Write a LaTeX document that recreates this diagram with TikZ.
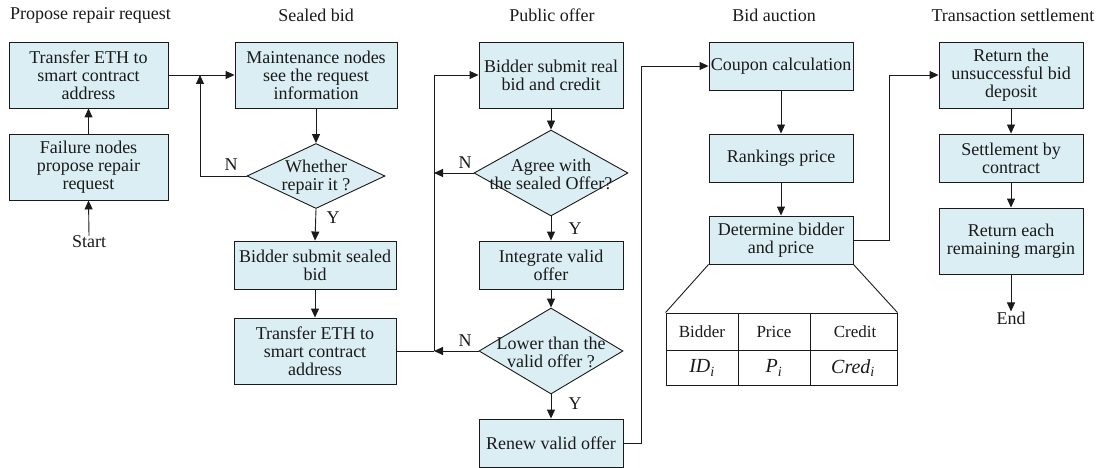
\documentclass[tikz,border=0pt]{standalone}
\usepackage{fontspec}
\setmainfont{Liberation Serif}
\usetikzlibrary{shapes.geometric,arrows.meta}
\definecolor{boxblue}{HTML}{DBEEF4}
\definecolor{ink}{HTML}{1A1A1A}
\begin{document}
\begin{tikzpicture}[x=1pt,y=-1pt,
  every node/.style={font=\fontsize{18}{18}\selectfont, text=ink},
  box/.style={draw=ink, fill=boxblue, line width=0.9pt, align=center, inner sep=0pt},
  dia/.style={diamond, draw=ink, fill=boxblue, line width=0.9pt, inner sep=0pt},
  dtext/.style={align=center, inner sep=0pt},
  line/.style={draw=ink, line width=0.9pt},
  arr/.style={line, -{Triangle[length=9pt,width=8pt]}},
  lbl/.style={inner sep=0pt},
  cell/.style={inner sep=0pt, font=\fontsize{17}{18}\selectfont},
  mcell/.style={inner sep=0pt, font=\fontsize{20}{20}\selectfont},
]
\useasboundingbox (0,0) rectangle (1102,468);

% stage titles
\node[lbl] (t1) at (90.5,15) {Propose repair request};
\node[lbl] (t2) at (316,15) {Sealed bid};
\node[lbl] (t3) at (552,15) {Public offer};
\node[lbl] (t4) at (774,15) {Bid auction};
\node[lbl] (t5) at (1013,15) {Transaction settlement};

% propose repair request
\node[box, minimum width=159pt, minimum height=66pt] (a1) at (88.5,75) {Transfer ETH to\\smart contract\\address};
\node[box, minimum width=159pt, minimum height=66pt] (a2) at (88.5,167) {Failure nodes\\propose repair\\request};
\node[lbl] (start) at (89,242) {Start};

% sealed bid
\node[box, minimum width=162pt, minimum height=66pt] (b1) at (316,75) {Maintenance nodes\\see the request\\information};
\node[dia, minimum width=138pt, minimum height=65pt] (b2) at (316,176) {};
\node[dtext] (b2t) at (316,177) {Whether\\repair it ?};
\node[box, minimum width=162pt, minimum height=48pt] (b3) at (315,265) {Bidder submit sealed\\bid};
\node[box, minimum width=162pt, minimum height=66pt] (b4) at (315,351) {Transfer ETH to\\smart contract\\address};

% public offer
\node[box, minimum width=144pt, minimum height=66pt] (c1) at (551,75) {Bidder submit real\\bid and credit};
\node[dia, minimum width=154pt, minimum height=86pt] (c2) at (551,173) {};
\node[dtext] (c2t) at (551,174) {Agree with\\the sealed Offer?};
\node[box, minimum width=144pt, minimum height=48pt] (c3) at (551,265) {Integrate valid\\offer};
\node[dia, minimum width=144pt, minimum height=86pt] (c4) at (551,351) {};
\node[dtext] (c4t) at (551,352) {Lower than the\\valid offer ?};
\node[box, minimum width=144pt, minimum height=48pt] (c5) at (551,443) {Renew valid offer};

% bid auction
\node[box, minimum width=144pt, minimum height=48pt] (d1) at (781,66) {Coupon calculation};
\node[box, minimum width=144pt, minimum height=48pt] (d2) at (781,158) {Rankings price};
\node[box, minimum width=144pt, minimum height=48pt] (d3) at (781,240) {Determine bidder\\and price};

% result table
\node[draw=ink, line width=0.9pt, minimum width=231pt, minimum height=72pt, inner sep=0pt] (tbl) at (781.5,349) {};
\coordinate (r1) at (666,350);
\coordinate (r2) at (897,350);
\coordinate (v1) at (738,313);
\coordinate (v2) at (738,385);
\coordinate (v3) at (810,313);
\coordinate (v4) at (810,385);
\draw[line] (r1) -- (r2);
\draw[line] (v1) -- (v2);
\draw[line] (v3) -- (v4);
\node[cell] (h1) at (702,332) {Bidder};
\node[cell] (h2) at (774,332) {Price};
\node[cell] (h3) at (855,332) {Credit};
\node[mcell] (m1) at (702,368) {\itshape ID\textsubscript{i}};
\node[mcell] (m2) at (774,368) {\itshape P\textsubscript{i}};
\node[mcell] (m3) at (853,368) {\itshape Cred\textsubscript{i}};
\draw[line] (d3.south west) -- (tbl.north west);
\draw[line] (d3.south east) -- (tbl.north east);

% transaction settlement
\node[box, minimum width=144pt, minimum height=66pt] (e1) at (1011,75) {Return the\\unsuccessful bid\\deposit};
\node[box, minimum width=144pt, minimum height=48pt] (e2) at (1011,158) {Settlement by\\contract};
\node[box, minimum width=144pt, minimum height=66pt] (e3) at (1011,241) {Return each\\remaining margin};
\node[lbl] (end) at (1011,318) {End};

% junction points
\coordinate (j1) at (200,75);
\coordinate (j2) at (434,351);
\coordinate (j3) at (434,173);
\coordinate (j4) at (641,66);
\coordinate (j5) at (889,75);

% connectors
\draw[arr] (start.north) -- (a2.south);
\draw[arr] (a2.north) -- (a1.south);
\draw[arr] (a1.east) -- (b1.west);
\draw[arr] (b1.south) -- (b2.north);
\draw[arr] (b2.west) -| (j1);
\node[lbl] (n1) at (231,165) {N};
\draw[arr] (b2.south) -- (b3.north);
\node[lbl] (y1) at (333,218) {Y};
\draw[arr] (b3.south) -- (b4.north);
\draw[line] (b4.east) -- (j2);
\draw[arr] (j2) |- (c1.west);
\draw[arr] (c1.south) -- (c2.north);
\draw[arr] (c2.west) -- (j3);
\node[lbl] (n2) at (465,163) {N};
\draw[arr] (c2.south) -- (c3.north);
\node[lbl] (y2) at (575,229) {Y};
\draw[arr] (c3.south) -- (c4.north);
\draw[arr] (c4.west) -- (j2);
\node[lbl] (n3) at (465,341) {N};
\draw[arr] (c4.south) -- (c5.north);
\node[lbl] (y3) at (575,404) {Y};
\draw[arr] (c5.east) -| (j4) -- (d1.west);
\draw[arr] (d1.south) -- (d2.north);
\draw[arr] (d2.south) -- (d3.north);
\draw[arr] (d3.east) -| (j5) -- (e1.west);
\draw[arr] (e1.south) -- (e2.north);
\draw[arr] (e2.south) -- (e3.north);
\draw[arr] (e3.south) -- (end.north);
\end{tikzpicture}
\end{document}
